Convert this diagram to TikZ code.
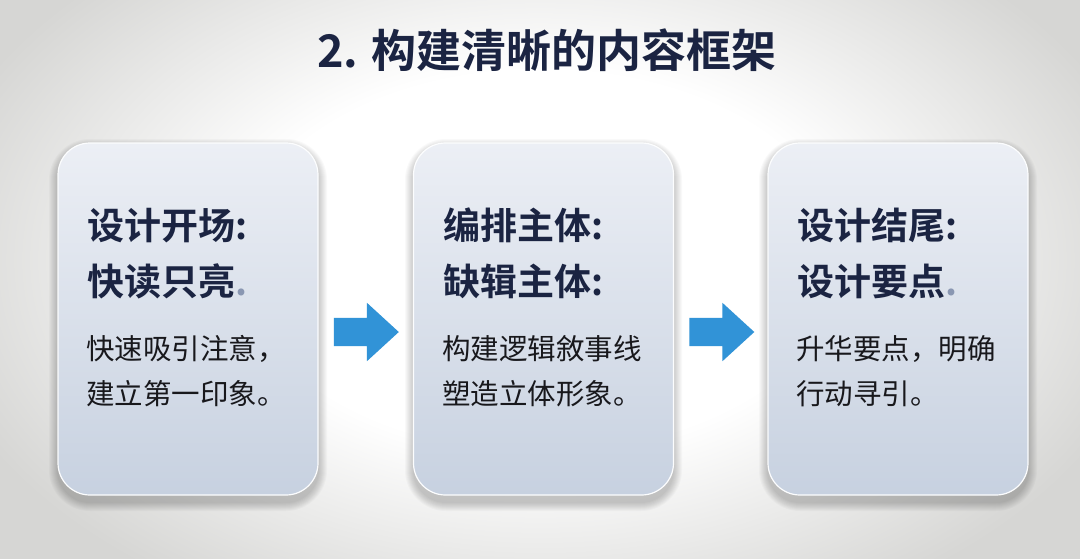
\documentclass[tikz,border=0pt]{standalone}
\usepackage{fontspec}
\newfontfamily\cjk{Noto Sans CJK SC}[BoldFont={Noto Sans CJK SC Bold}]
\usetikzlibrary{shapes.arrows}
\definecolor{bgc}{HTML}{D6D6D4}
\definecolor{navy}{HTML}{1B2442}
\definecolor{bodytxt}{HTML}{18181C}
\definecolor{cardtop}{HTML}{ECEFF5}
\definecolor{cardbot}{HTML}{C7D1E0}
\definecolor{arrowblue}{HTML}{3193D7}
\definecolor{dotgrey}{HTML}{8A97B2}
\pgfdeclareradialshading{vign}{\pgfpoint{0bp}{0bp}}{color(0bp)=(white); color(11bp)=(white); color(23bp)=(bgc); color(50bp)=(bgc)}
\newcommand{\cardshadow}[4]{%
  \foreach \i in {1,...,9}{%
    \fill[black, opacity=0.022, rounded corners=32+\i] (#1-\i,#2-\i+5) rectangle (#3+\i,#4+\i+7);
  }%
}
\begin{document}
\begin{tikzpicture}[x=1pt,y=-1pt,
  card/.style={rectangle, rounded corners=32pt, top color=cardtop, bottom color=cardbot,
    draw=white!85!cardtop, line width=1.2pt, inner sep=0pt, minimum width=260pt, minimum height=352pt},
  barrow/.style={single arrow, fill=arrowblue, draw=none, inner xsep=0pt, inner ysep=14pt,
    minimum height=65pt, single arrow head extend=15pt,
    single arrow tip angle=85, single arrow head indent=0pt},
  maintitle/.style={font=\cjk\bfseries\fontsize{45pt}{50pt}\selectfont, text=navy, inner sep=0pt, anchor=base west},
  htitle/.style={font=\cjk\bfseries\fontsize{37pt}{40pt}\selectfont, text=navy, inner sep=0pt, anchor=base west},
  bodytext/.style={font=\cjk\fontsize{28.5pt}{30pt}\selectfont, text=bodytxt, inner sep=0pt, anchor=base west}
]
\useasboundingbox (0,0) rectangle (1080,558);
\fill[bgc] (-5,-5) rectangle (1085,563);
\shade[shading=vign] (540,260) ellipse [x radius=680, y radius=430];

% title
\node[maintitle] (title) at (317,67) {2. 构建清晰的内容框架};

% card shadows
\cardshadow{58}{143}{318}{495}
\cardshadow{414}{143}{673}{495}
\cardshadow{768}{143}{1028}{495}

% cards
\node[card] (c1) at (188,319) {};
\node[card] (c2) at (543.5,319) {};
\node[card] (c3) at (898,319) {};

% arrows
\node[barrow, anchor=tail] (a1) at ([shift={(15,13)}]c1.east) {};
\node[barrow, anchor=tail] (a2) at ([shift={(15,13)}]c2.east) {};

% card 1 text
\node[htitle] (t1a) at (87,239) {设计开场:};
\node[htitle] (t1b) at (87,295) {快读只亮\textcolor{dotgrey}{.}};
\node[bodytext] (b1a) at (86,359) {快速吸引注意，};
\node[bodytext] (b1b) at (86,404) {建立第一印象。};

% card 2 text
\node[htitle] (t2a) at (443,239) {编排主体:};
\node[htitle] (t2b) at (443,295) {缺辑主体:};
\node[bodytext] (b2a) at (442,359) {构建逻辑敘事线};
\node[bodytext] (b2b) at (442,404) {塑造立体形象。};

% card 3 text
\node[htitle] (t3a) at (797,239) {设计结尾:};
\node[htitle] (t3b) at (797,295) {设计要点\textcolor{dotgrey}{.}};
\node[bodytext] (b3a) at (796,359) {升华要点，明确};
\node[bodytext] (b3b) at (796,404) {行动寻引。};
\end{tikzpicture}
\end{document}
